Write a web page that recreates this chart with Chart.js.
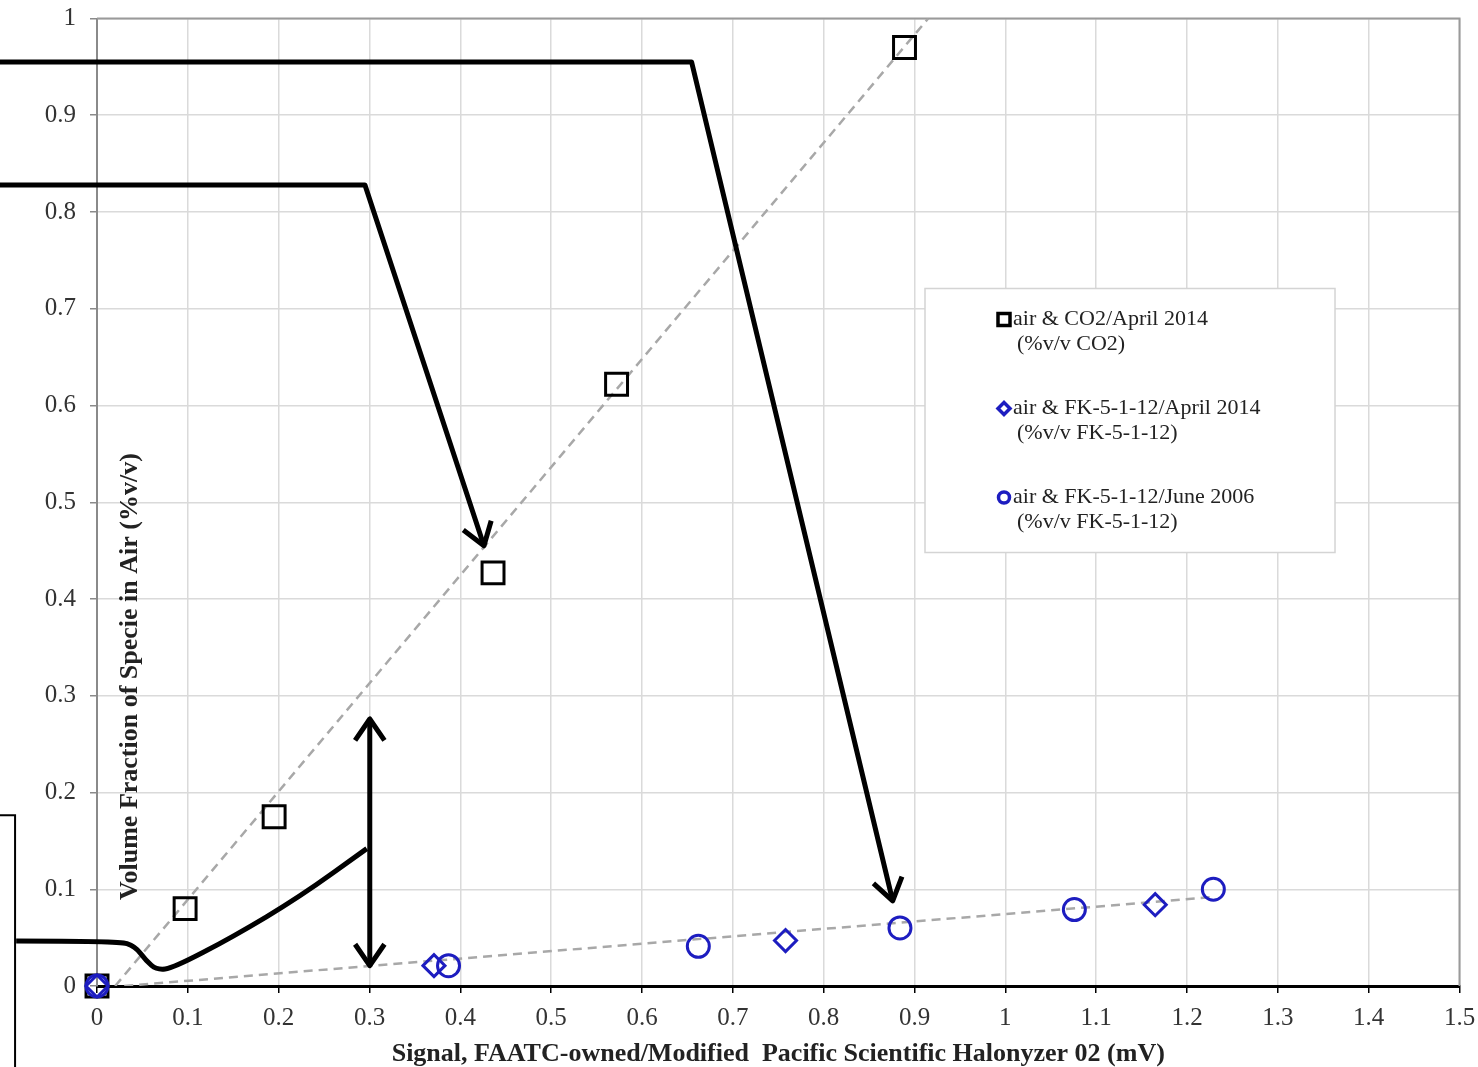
<!DOCTYPE html>
<html>
<head>
<meta charset="utf-8">
<script src="https://cdn.jsdelivr.net/npm/chart.js@4.4.1/dist/chart.umd.min.js"></script>
<style>
  html, body { margin: 0; padding: 0; background: #fff; }
  #wrap { width: 1478px; height: 1067px; }
</style>
</head>
<body>
<div id="wrap"><canvas id="calChart"></canvas></div>
<script>
const co2X = [0, 0.097, 0.195, 0.436, 0.572, 0.889];
const co2Y = [0, 0.080, 0.175, 0.427, 0.622, 0.970];
const fkAprX = [0, 0.371, 0.758, 1.165];
const fkAprY = [0, 0.021, 0.047, 0.084];
const fkJunX = [0, 0.387, 0.662, 0.884, 1.076, 1.229];
const fkJunY = [0, 0.021, 0.041, 0.060, 0.079, 0.100];

// dashed trend lines (end points)
const co2TrendX = [0.02, 0.915];
const co2TrendY = [0, 1];
const fkTrendX = [0.03, 1.23];
const fkTrendY = [0, 0.092];

const seriesLabels = [
    ["air & CO2/April 2014", "(%v/v CO2)"],
    ["air & FK-5-1-12/April 2014", "(%v/v FK-5-1-12)"],
    ["air & FK-5-1-12/June 2006", "(%v/v FK-5-1-12)"]
];

const xTickLabels = ["0", "0.1", "0.2", "0.3", "0.4", "0.5", "0.6", "0.7", "0.8", "0.9", "1", "1.1", "1.2", "1.3", "1.4", "1.5"];
const yTickLabels = ["0", "0.1", "0.2", "0.3", "0.4", "0.5", "0.6", "0.7", "0.8", "0.9", "1"];

const xTitle = "Signal, FAATC-owned/Modified  Pacific Scientific Halonyzer 02 (mV)";
const yTitle = "Volume Fraction of Specie in Air (%v/v)";

// hand drawn arrows / callouts on the slide, in data units
const arrowTopX = [-0.11, 0.6546, 0.876];
const arrowTopY = [0.955, 0.955, 0.088];
const arrowMidX = [-0.11, 0.295, 0.426];
const arrowMidY = [0.828, 0.828, 0.455];
const curveX = [-0.089, 0.024, 0.042, 0.054, 0.066, 0.084, 0.150, 0.223, 0.297];
const curveY = [0.0464, 0.0464, 0.041, 0.026, 0.0165, 0.0186, 0.051, 0.092, 0.142];
const dblArrowX = [0.3003, 0.3003];
const dblArrowY = [0.276, 0.021];
const boxX = [-0.11, -0.0902, -0.0902];
const boxY = [0.1765, 0.1765, -0.12];

const blue = "#1d1dc0";
const serif = "'Liberation Serif', 'Times New Roman', serif";

function pts(xs, ys) {
    return xs.map((v, i) => ({ x: v, y: ys[i] }));
}

function arrowHead(ctx, fx, fy, tx, ty) {
    let a = Math.atan2(ty - fy, tx - fx);
    let len = 26, spread = 0.6;
    ctx.beginPath();
    ctx.moveTo(tx - len * Math.cos(a - spread), ty - len * Math.sin(a - spread));
    ctx.lineTo(tx, ty);
    ctx.lineTo(tx - len * Math.cos(a + spread), ty - len * Math.sin(a + spread));
    ctx.stroke();
}

const calloutPlugin = {
    id: "callouts",
    afterDatasetsDraw(chart) {
        const { ctx, scales: { x, y } } = chart;
        const px = v => x.getPixelForValue(v);
        const py = v => y.getPixelForValue(v);
        ctx.save();
        ctx.strokeStyle = "#000";
        ctx.lineWidth = 5;
        ctx.lineJoin = "round";
        ctx.lineCap = "butt";

        // two bent arrows
        [[arrowTopX, arrowTopY], [arrowMidX, arrowMidY]].forEach(([xs, ys]) => {
            ctx.beginPath();
            xs.forEach((v, i) => {
                if (i == 0) ctx.moveTo(px(v), py(ys[i]));
                else ctx.lineTo(px(v), py(ys[i]));
            });
            ctx.stroke();
            let n = xs.length - 1;
            arrowHead(ctx, px(xs[n - 1]), py(ys[n - 1]), px(xs[n]), py(ys[n]));
        });

        // smooth curve
        ctx.beginPath();
        ctx.moveTo(px(curveX[0]), py(curveY[0]));
        for (let i = 1; i < curveX.length - 1; i++) {
            let mx = (px(curveX[i]) + px(curveX[i + 1])) / 2;
            let my = (py(curveY[i]) + py(curveY[i + 1])) / 2;
            ctx.quadraticCurveTo(px(curveX[i]), py(curveY[i]), mx, my);
        }
        let last = curveX.length - 1;
        ctx.lineTo(px(curveX[last]), py(curveY[last]));
        ctx.stroke();

        // double headed arrow
        let ax = px(dblArrowX[0]), ay1 = py(dblArrowY[0]), ay2 = py(dblArrowY[1]);
        ctx.beginPath();
        ctx.moveTo(ax, ay1);
        ctx.lineTo(ax, ay2);
        ctx.stroke();
        arrowHead(ctx, ax, ay2, ax, ay1);
        arrowHead(ctx, ax, ay1, ax, ay2);

        // corner of the box on the left
        ctx.lineWidth = 2;
        ctx.lineJoin = "miter";
        ctx.beginPath();
        boxX.forEach((v, i) => {
            if (i == 0) ctx.moveTo(px(v), py(boxY[i]));
            else ctx.lineTo(px(v), py(boxY[i]));
        });
        ctx.stroke();
        ctx.restore();
    }
};

const framePlugin = {
    id: "frame",
    beforeDatasetsDraw(chart) {
        const { ctx, chartArea: a } = chart;
        ctx.save();
        ctx.strokeStyle = "#9a9a9a";
        ctx.lineWidth = 2;
        ctx.beginPath();
        ctx.moveTo(a.left, a.top);
        ctx.lineTo(a.right, a.top);
        ctx.lineTo(a.right, a.bottom);
        ctx.stroke();

        // y axis title sits inside the plot
        ctx.translate(a.left + 33, a.top + 658);
        ctx.rotate(-Math.PI / 2);
        ctx.fillStyle = "#222";
        ctx.font = "bold 26px " + serif;
        ctx.textAlign = "center";
        ctx.textBaseline = "middle";
        ctx.fillText(yTitle, 0, 0);
        ctx.restore();
    },
    afterDraw(chart) {
        const { ctx, chartArea: a } = chart;
        let bx = a.left + 828, by = a.top + 270, bw = 410, bh = 264;
        ctx.save();
        ctx.fillStyle = "#fff";
        ctx.fillRect(bx, by, bw, bh);
        ctx.strokeStyle = "#d4d4d4";
        ctx.lineWidth = 1.5;
        ctx.strokeRect(bx, by, bw, bh);

        ctx.font = "22px " + serif;
        ctx.fillStyle = "#222";
        ctx.textBaseline = "middle";
        chart.data.datasets.slice(0, 3).forEach((ds, i) => {
            let ly = by + 31 + i * 89;
            let mx = bx + 79;
            ctx.strokeStyle = ds.borderColor;
            ctx.lineWidth = 3.5;
            ctx.beginPath();
            if (ds.pointStyle == "rect") {
                ctx.rect(mx - 6, ly - 6, 12, 12);
            } else if (ds.pointStyle == "rectRot") {
                ctx.moveTo(mx - 6, ly);
                ctx.lineTo(mx, ly - 6);
                ctx.lineTo(mx + 6, ly);
                ctx.lineTo(mx, ly + 6);
                ctx.closePath();
            } else {
                ctx.arc(mx, ly, 5.5, 0, Math.PI * 2);
            }
            ctx.stroke();
            ctx.fillText(seriesLabels[i][0], mx + 9, ly);
            ctx.fillText(seriesLabels[i][1], mx + 13, ly + 25);
        });
        ctx.restore();
    }
};

const ctx = document.getElementById("calChart").getContext("2d");

const chart = new Chart(ctx, {
    type: "scatter",
    data: {
        datasets: [
            {
                label: seriesLabels[0].join(" "),
                data: pts(co2X, co2Y),
                pointStyle: "rect",
                pointRadius: 15.5,
                borderColor: "#000",
                backgroundColor: "rgba(0,0,0,0)",
                borderWidth: 3,
                clip: false,
                order: 3
            },
            {
                label: seriesLabels[1].join(" "),
                data: pts(fkAprX, fkAprY),
                pointStyle: "rectRot",
                pointRadius: 11,
                borderColor: blue,
                backgroundColor: "rgba(0,0,0,0)",
                borderWidth: 3,
                clip: false,
                order: 1
            },
            {
                label: seriesLabels[2].join(" "),
                data: pts(fkJunX, fkJunY),
                pointStyle: "circle",
                pointRadius: 11,
                borderColor: blue,
                backgroundColor: "rgba(0,0,0,0)",
                borderWidth: 3,
                clip: false,
                order: 2
            },
            {
                label: "CO2 trend",
                data: pts(co2TrendX, co2TrendY),
                showLine: true,
                borderColor: "#a8a8a8",
                borderWidth: 2.5,
                borderDash: [9, 6],
                pointRadius: 0,
                order: 5
            },
            {
                label: "FK-5-1-12 trend",
                data: pts(fkTrendX, fkTrendY),
                showLine: true,
                borderColor: "#a8a8a8",
                borderWidth: 2.5,
                borderDash: [9, 6],
                pointRadius: 0,
                order: 5
            }
        ]
    },
    options: {
        responsive: true,
        maintainAspectRatio: false,
        animation: false,
        layout: {
            padding: { top: 17, right: 18, left: 0, bottom: 0 }
        },
        scales: {
            x: {
                type: "linear",
                min: 0,
                max: 1.5,
                afterFit: scale => {
                    scale.height = 81;
                    scale.paddingLeft = 0;
                    scale.paddingRight = 0;
                },
                ticks: {
                    stepSize: 0.1,
                    padding: 10,
                    color: "#333",
                    font: { family: serif, size: 25 },
                    maxRotation: 0,
                    autoSkip: false,
                    callback: (value, index) => xTickLabels[index]
                },
                grid: {
                    color: "#dadada",
                    lineWidth: 1.5,
                    tickColor: "#000",
                    tickLength: 7
                },
                border: { color: "#000", width: 3 },
                title: {
                    display: true,
                    text: xTitle,
                    color: "#222",
                    font: { family: serif, size: 26, weight: "bold" },
                    padding: { top: 0, bottom: -3 }
                }
            },
            y: {
                type: "linear",
                min: 0,
                max: 1,
                afterFit: scale => {
                    scale.width = 97;
                    scale.paddingTop = 0;
                    scale.paddingBottom = 0;
                },
                ticks: {
                    stepSize: 0.1,
                    padding: 14,
                    color: "#333",
                    font: { family: serif, size: 25 },
                    callback: (value, index) => yTickLabels[index]
                },
                grid: {
                    color: "#dadada",
                    lineWidth: 1.5,
                    tickColor: "#8a8a8a",
                    tickLength: 7
                },
                border: { color: "#8a8a8a", width: 2 }
            }
        },
        plugins: {
            legend: { display: false },
            tooltip: { enabled: false }
        }
    },
    plugins: [framePlugin, calloutPlugin]
});
</script>
</body>
</html>
